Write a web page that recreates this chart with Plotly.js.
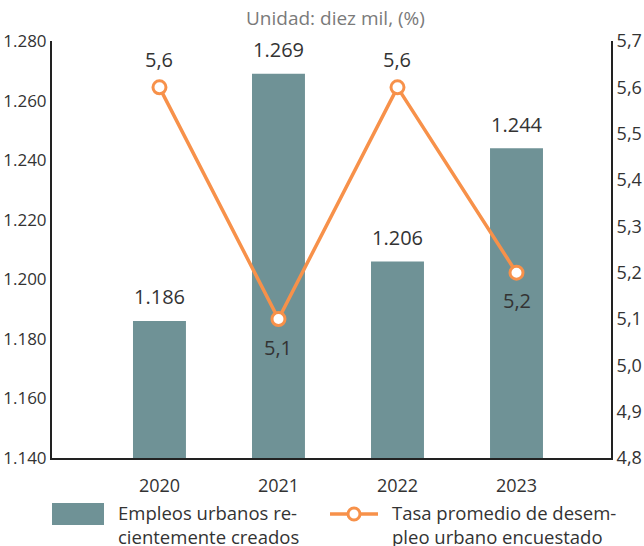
<!DOCTYPE html>
<html>
<head>
<meta charset="utf-8">
<script src="https://cdn.plot.ly/plotly-3.0.1.min.js"></script>
<style>
html,body{margin:0;padding:0;background:#fff;}
#chart{width:644px;height:546px;}
</style>
</head>
<body>
<div id="chart"></div>
<script>
const years = ['2020', '2021', '2022', '2023'];
const empleos = [1186, 1269, 1206, 1244];
const tasa = [5.6, 5.1, 5.6, 5.2];
const tasaLabelSide = [1, -1, 1, -1];
const barName = 'Empleos urbanos re-<br>cientemente creados';
const lineName = 'Tasa promedio de desem-<br>pleo urbano encuestado';
const subtitle = 'Unidad: diez mil, (%)';

const FONT = 'Open Sans, Noto Sans, sans-serif';
const barColor = '#6f9296';
const lineColor = '#f7914a';
const textColor = '#333333';

function fmtThousands(v){ return String(v).replace(/\B(?=(\d{3})+(?!\d))/g, '.'); }
function fmtDec(v){ return v.toFixed(1).replace('.', ','); }

const traces = [
  {
    type: 'bar', x: years, y: empleos, name: barName,
    marker: {color: barColor}, width: 0.445, showlegend: false, hoverinfo: 'skip'
  },
  {
    type: 'scatter', mode: 'lines+markers', x: years, y: tasa, yaxis: 'y2', name: lineName,
    line: {color: lineColor, width: 3.5},
    marker: {size: 13, color: '#ffffff', line: {color: lineColor, width: 3}},
    showlegend: false, hoverinfo: 'skip'
  }
];

const annotations = [];
for (let i = 0; i < years.length; i++) {
  annotations.push({
    x: i, y: empleos[i], xref: 'x', yref: 'y', text: fmtThousands(empleos[i]),
    showarrow: false, yshift: 24, xanchor: 'center', yanchor: 'middle',
    font: {family: FONT, size: 20, color: textColor}
  });
  annotations.push({
    x: i, y: tasa[i], xref: 'x', yref: 'y2', text: fmtDec(tasa[i]),
    showarrow: false, yshift: 28 * tasaLabelSide[i], xanchor: 'center', yanchor: 'middle',
    font: {family: FONT, size: 20, color: textColor}
  });
}
// subtitle
annotations.push({
  x: 0.508, y: 1.055, xref: 'paper', yref: 'paper', text: subtitle, showarrow: false,
  xanchor: 'center', yanchor: 'middle', font: {family: FONT, size: 19, color: '#7a7a7a'}
});
// legend texts
function px2x(px){ return (px - 52) / 559; }
function px2y(py){ return (458 - py) / 417; }
annotations.push({
  x: px2x(116), y: px2y(524), xref: 'paper', yref: 'paper', text: barName, showarrow: false,
  xanchor: 'left', yanchor: 'middle', align: 'left',
  font: {family: FONT, size: 18.5, color: textColor}
});
annotations.push({
  x: px2x(390), y: px2y(524), xref: 'paper', yref: 'paper', text: lineName, showarrow: false,
  xanchor: 'left', yanchor: 'middle', align: 'left',
  font: {family: FONT, size: 18.5, color: textColor}
});

const shapes = [
  {type: 'rect', xref: 'paper', yref: 'paper', x0: px2x(52), x1: px2x(104), y0: px2y(525), y1: px2y(503),
   fillcolor: barColor, line: {width: 0}},
  {type: 'line', xref: 'paper', yref: 'paper', x0: px2x(330), x1: px2x(378), y0: px2y(514), y1: px2y(514),
   line: {color: lineColor, width: 3.5}},
  {type: 'circle', xref: 'paper', yref: 'paper', x0: px2x(348), x1: px2x(360), y0: px2y(520), y1: px2y(508),
   fillcolor: '#ffffff', line: {color: lineColor, width: 3}}
];

const layout = {
  width: 644, height: 546,
  margin: {l: 52, r: 33, t: 41, b: 88, pad: 0},
  paper_bgcolor: '#ffffff', plot_bgcolor: '#ffffff',
  separators: ',.',
  font: {family: FONT, size: 18, color: textColor},
  showlegend: false,
  xaxis: {
    type: 'category', range: [-0.903, 3.794], showgrid: false, zeroline: false,
    showline: true, linecolor: '#222222', linewidth: 2, ticks: '',
    tickfont: {family: FONT, size: 18, color: textColor}, ticklabelstandoff: 10
  },
  yaxis: {
    range: [1140, 1280], dtick: 20, tickformat: ',d', showgrid: false, zeroline: false,
    showline: true, linecolor: '#222222', linewidth: 2, ticks: '',
    tickfont: {family: FONT, size: 17, color: textColor}
  },
  yaxis2: {
    range: [4.8, 5.7], dtick: 0.1, tickformat: '.1f', overlaying: 'y', side: 'right',
    showgrid: false, zeroline: false, showline: true, linecolor: '#222222', linewidth: 2, ticks: '',
    tickfont: {family: FONT, size: 18, color: textColor}
  },
  annotations: annotations,
  shapes: shapes
};

Plotly.newPlot('chart', traces, layout, {staticPlot: true, displayModeBar: false});
</script>
</body>
</html>
